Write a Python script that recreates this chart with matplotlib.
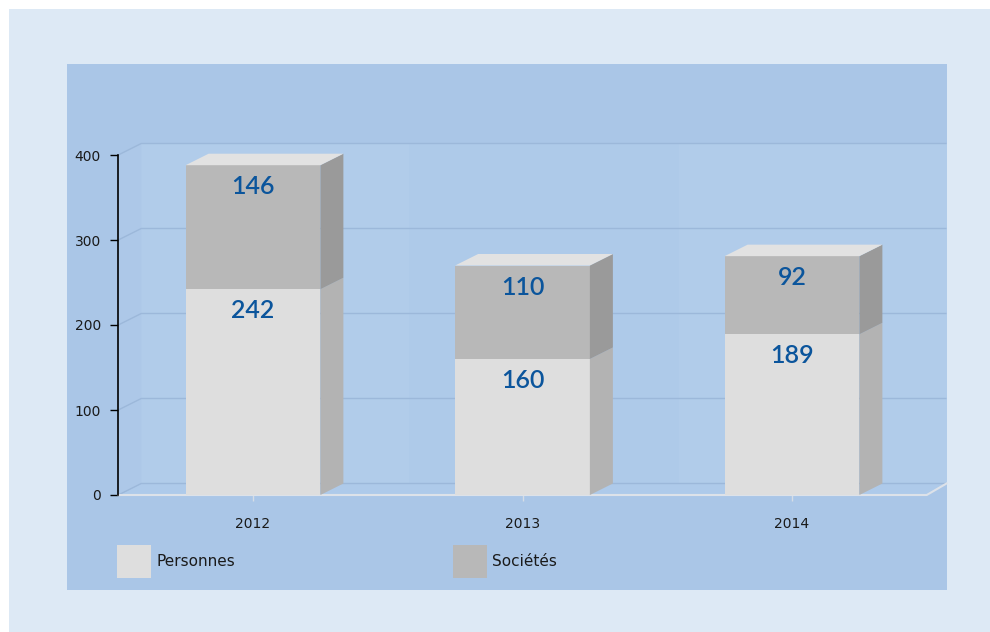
import matplotlib
matplotlib.use('Agg')
import matplotlib.pyplot as plt
from matplotlib.patches import Rectangle, Polygon

years = ['2012', '2013', '2014']
personnes = [242, 160, 189]
societes = [146, 110, 92]
yticks = [0, 100, 200, 300, 400]
legend_labels = ['Personnes', 'Sociétés']

W, H = 990, 632
fig = plt.figure(figsize=(9.9, 6.32), dpi=100)
fig.patch.set_facecolor('white')


def fx(px):
    return px / W


def fy(py):
    return 1 - py / H


# backgrounds
fig.patches.append(Rectangle((fx(9), 0), 1 - fx(9), fy(9), transform=fig.transFigure,
                             facecolor='#dde9f5', edgecolor='none', zorder=-10))
fig.patches.append(Rectangle((fx(67), fy(590)), fx(947) - fx(67), fy(64) - fy(590),
                             transform=fig.transFigure, facecolor='#aac6e7',
                             edgecolor='none', zorder=-5))

# axes: x=-0.5 at px 118.25, x=2.5 at px 926.75 ; y=0 at px 495, y=430 at px 129.5
ax = fig.add_axes([118.25 / W, (H - 495) / H, 808.5 / W, 365.5 / H])
ax.set_zorder(1)
ax.set_xlim(-0.5, 2.5)
ax.set_ylim(0, 430)
ax.set_facecolor('none')
for s in ax.spines.values():
    s.set_visible(False)

DX = 23 / 269.5
DY = 11.5 / 0.85
w = 0.5
x = list(range(len(years)))
top = max(yticks)
XR = 2.5 + DX - 0.012  # back wall right edge (panel edge)

# walls and floor
ax.add_patch(Polygon([(-0.5 + DX, DY), (XR, DY), (XR, top + DY), (-0.5 + DX, top + DY)],
                     closed=True, facecolor='#aecae9', edgecolor='none', zorder=1, clip_on=False))
for b0, b1 in ((-0.5 + DX, 0.58), (1.58, XR)):
    ax.add_patch(Polygon([(b0, DY), (b1, DY), (b1, top + DY), (b0, top + DY)],
                         closed=True, facecolor='#b1ccea', edgecolor='none', zorder=1,
                         clip_on=False))
ax.add_patch(Polygon([(-0.5, 0), (-0.5 + DX, DY), (-0.5 + DX, top + DY), (-0.5, top)],
                     closed=True, facecolor='#adc8e8', edgecolor='none', zorder=1, clip_on=False))
ax.add_patch(Polygon([(-0.5, 0), (2.5, 0), (XR, DY), (-0.5 + DX, DY)],
                     closed=True, facecolor='#aecaea', edgecolor='none', zorder=1, clip_on=False))

for v in yticks:
    ax.plot([-0.5, -0.5 + DX, XR], [v, v + DY, v + DY], color='#9cb8da', lw=1.0, zorder=2,
            solid_capstyle='butt', clip_on=False)
ax.plot([-0.5, 2.5, XR], [0, 0, DY], color='#dde2e9', lw=1.5, zorder=2, clip_on=False)

# bars
totals = [p + s for p, s in zip(personnes, societes)]
ax.bar(x, personnes, width=w, color='#dedede', zorder=3)
ax.bar(x, societes, width=w, bottom=personnes, color='#b8b8b8', zorder=3)
for xi, p, s, t in zip(x, personnes, societes, totals):
    r = xi + w / 2
    ax.add_patch(Polygon([(r, 0), (r + DX, DY), (r + DX, p + DY), (r, p)], closed=True,
                         facecolor='#b3b3b3', edgecolor='none', zorder=3))
    ax.add_patch(Polygon([(r, p), (r + DX, p + DY), (r + DX, t + DY), (r, t)], closed=True,
                         facecolor='#9a9a9a', edgecolor='none', zorder=3))
    ax.add_patch(Polygon([(xi - w / 2, t), (r, t), (r + DX, t + DY), (xi - w / 2 + DX, t + DY)],
                         closed=True, facecolor='#e2e2e2', edgecolor='none', zorder=3))
    for val, ytop in ((s, t), (p, p)):
        ax.annotate(str(val), (xi, ytop), xytext=(0, -15.5), textcoords='offset points',
                    ha='center', va='center', fontsize=18, color='#0b559c',
                    family=['Lato', 'DejaVu Sans'], fontweight='semibold', zorder=5)

# y axis
ax.plot([-0.5, -0.5], [0, top], color='black', lw=1.2, zorder=4, clip_on=False)
ax.set_yticks(yticks)
ax.set_yticklabels([str(v) for v in yticks])
ax.tick_params(axis='y', length=5.5, width=1, color='black', pad=7, labelsize=10,
               labelcolor='#1a1a1a')
ax.set_xticks(x)
ax.set_xticklabels(years)
ax.tick_params(axis='x', length=4, width=1, color='#d6dde6', pad=12, labelsize=10,
               labelcolor='#1a1a1a')

# legend
leg_colors = ['#dedede', '#b8b8b8']
leg_x = [117, 453]
for lx, lc, lab in zip(leg_x, leg_colors, legend_labels):
    fig.patches.append(Rectangle((fx(lx), fy(578)), fx(34), 33 / H, transform=fig.transFigure,
                                 facecolor=lc, edgecolor='none', zorder=2))
    fig.text(fx(lx + 39), fy(562), lab, fontsize=11, color='#1a1a1a', va='center', ha='left')

fig.savefig('out.png', dpi=100, facecolor=fig.get_facecolor())
